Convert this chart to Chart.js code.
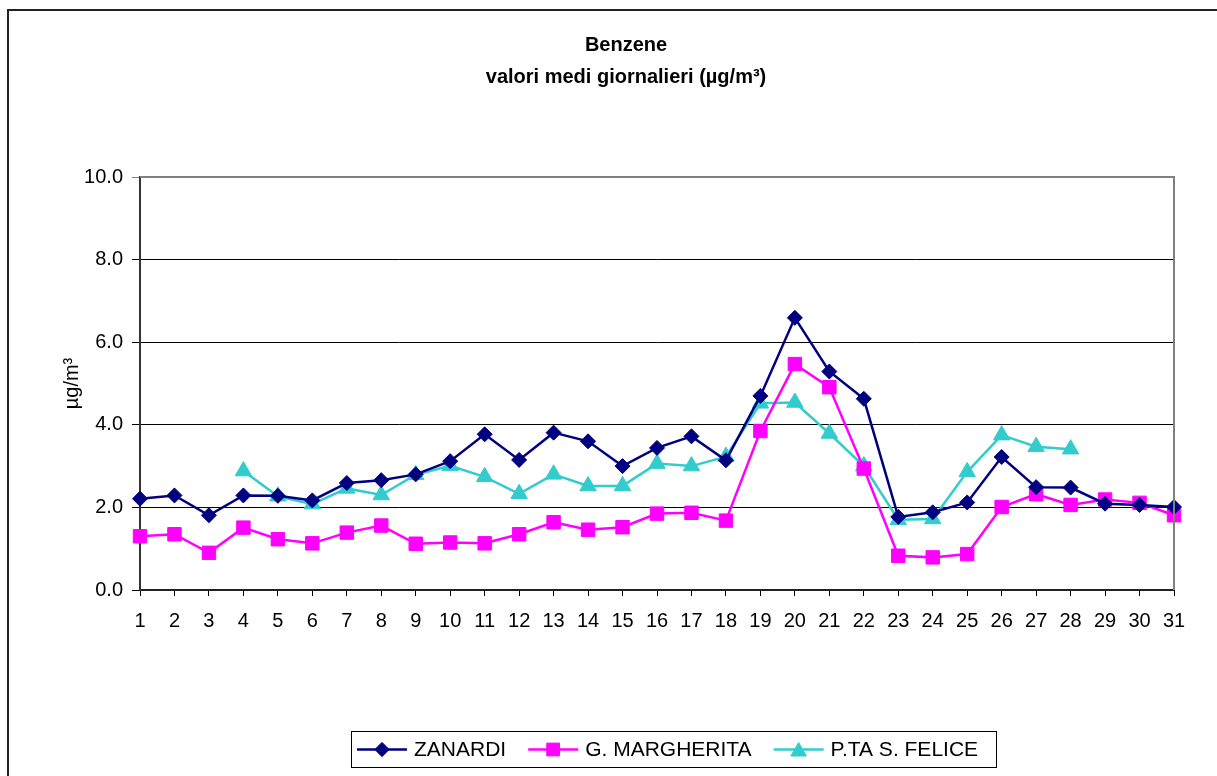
<!DOCTYPE html>
<html>
<head>
<meta charset="utf-8">
<script src="https://cdn.jsdelivr.net/npm/chart.js@4/dist/chart.umd.min.js"></script>
<style>
  html, body { margin: 0; padding: 0; background: #ffffff; }
  #wrap { width: 1217px; height: 776px; position: relative; }
  canvas { display: block; }
</style>
</head>
<body>
<div id="wrap"><canvas id="c" width="1217" height="776"></canvas></div>
<script>
const days = ['1','2','3','4','5','6','7','8','9','10','11','12','13','14','15','16','17','18','19','20','21','22','23','24','25','26','27','28','29','30','31'];
const zanardi = [2.21,2.29,1.81,2.29,2.28,2.17,2.59,2.66,2.80,3.12,3.77,3.15,3.81,3.60,3.00,3.44,3.72,3.14,4.70,6.59,5.29,4.63,1.77,1.88,2.12,3.22,2.49,2.48,2.09,2.06,2.01];
const margherita = [1.30,1.35,0.90,1.51,1.23,1.13,1.39,1.56,1.12,1.15,1.13,1.35,1.64,1.46,1.52,1.85,1.87,1.68,3.85,5.47,4.91,2.94,0.83,0.79,0.87,2.01,2.32,2.06,2.19,2.11,1.81];
const felice = [null,null,null,2.88,2.27,2.08,2.46,2.30,2.79,3.01,2.74,2.33,2.80,2.52,2.52,3.06,3.00,3.23,4.52,4.54,3.79,3.00,1.70,1.72,2.86,3.75,3.47,3.41,null,null,null];
const yTicks = [0,2,4,6,8,10];
const seriesNames = ['ZANARDI','G. MARGHERITA','P.TA S. FELICE'];
const titleLines = ['Benzene','valori medi giornalieri (\u00B5g/m\u00B3)'];
const yTitle = '\u00B5g/m\u00B3';

const FONT = "'Liberation Sans', Arial, Helvetica, sans-serif";
const colors = ['#000080','#FF00FF','#33CCCC'];
const styles = ['rectRot','rect','triangle'];
const radii = [7.5, 9.5, 9.5];

function ds(label, data, i) {
  return {
    label: label,
    data: data,
    borderColor: colors[i],
    backgroundColor: colors[i],
    borderWidth: 2.5,
    pointStyle: styles[i],
    pointRadius: radii[i],
    pointHoverRadius: radii[i],
    pointBackgroundColor: colors[i],
    pointBorderColor: colors[i],
    pointBorderWidth: 1,
    tension: 0,
    spanGaps: false,
    fill: false
  };
}

const framePlugin = {
  id: 'frame',
  beforeDraw(chart) {
    const ctx = chart.ctx;
    ctx.save();
    ctx.fillStyle = '#ffffff';
    ctx.fillRect(0, 0, chart.width, chart.height);
    ctx.restore();
  },
  afterDraw(chart) {
    const ctx = chart.ctx;
    const a = chart.chartArea;
    ctx.save();
    // plot border right / top (gray)
    ctx.strokeStyle = '#808080';
    ctx.lineWidth = 2;
    ctx.beginPath();
    ctx.moveTo(a.left, a.top);
    ctx.lineTo(a.right, a.top);
    ctx.lineTo(a.right, a.bottom);
    ctx.stroke();
    // outer chart frame (left & top visible)
    ctx.strokeStyle = '#222222';
    ctx.lineWidth = 2;
    ctx.beginPath();
    ctx.moveTo(8, chart.height);
    ctx.lineTo(8, 10);
    ctx.lineTo(chart.width, 10);
    ctx.stroke();

    // legend
    ctx.font = '21px ' + FONT;
    ctx.textBaseline = 'middle';
    const lineLen = 50, gapText = 7, gapItem = 22, padL = 6, padR = 18;
    const widths = chart.data.datasets.map(d => ctx.measureText(d.label).width);
    let total = padL + padR;
    widths.forEach((w, i) => { total += lineLen + gapText + w + (i < widths.length - 1 ? gapItem : 0); });
    const cx = 674, top = 731, h = 36;
    let x = Math.round(cx - total / 2);
    ctx.strokeStyle = '#000000';
    ctx.lineWidth = 1;
    ctx.strokeRect(x + 0.5, top + 0.5, Math.round(total), h);
    const cy = top + h / 2 + 0.5;
    x += padL;
    chart.data.datasets.forEach((d, i) => {
      ctx.strokeStyle = d.borderColor;
      ctx.lineWidth = 2.5;
      ctx.beginPath();
      ctx.moveTo(x, cy);
      ctx.lineTo(x + lineLen, cy);
      ctx.stroke();
      ctx.fillStyle = d.borderColor;
      ctx.lineWidth = 1;
      Chart.helpers.drawPoint(ctx, {pointStyle: d.pointStyle, radius: d.pointRadius * 0.95, borderWidth: 1, rotation: 0}, x + lineLen / 2, cy + (d.pointStyle === 'triangle' ? 2 : 0));
      ctx.fillStyle = '#000000';
      ctx.textAlign = 'left';
      ctx.fillText(d.label, x + lineLen + gapText, cy + 1);
      x += lineLen + gapText + widths[i] + gapItem;
    });
    ctx.restore();
  }
};

new Chart(document.getElementById('c'), {
  type: 'line',
  data: {
    labels: days,
    datasets: [ds(seriesNames[0], zanardi, 0), ds(seriesNames[1], margherita, 1), ds(seriesNames[2], felice, 2)]
  },
  options: {
    responsive: false,
    animation: false,
    devicePixelRatio: 1,
    layout: { padding: { left: 78, right: 43, top: 10, bottom: 136 } },
    plugins: {
      legend: { display: false },
      tooltip: { enabled: false },
      title: {
        display: true,
        text: titleLines,
        color: '#000000',
        font: { family: FONT, size: 20, weight: 'bold', lineHeight: '32px' },
        padding: { top: 19, bottom: 84 }
      }
    },
    scales: {
      x: {
        type: 'category',
        offset: false,
        afterFit(scale) { scale.height = 50; },
        grid: { display: true, drawOnChartArea: false, drawTicks: true, tickLength: 6, color: '#000000', lineWidth: 1 },
        border: { display: true, color: '#222222', width: 2 },
        ticks: { color: '#000000', font: { family: FONT, size: 20 }, padding: 13, maxRotation: 0, autoSkip: false }
      },
      y: {
        min: 0, max: 10,
        afterFit(scale) { scale.width = 62; },
        afterBuildTicks(scale) { scale.ticks = yTicks.map(v => ({ value: v })); },
        grid: {
          display: true, drawOnChartArea: true, drawTicks: true, tickLength: 8,
          color: (c) => (c.tick && c.tick.value === 10) ? '#808080' : '#000000',
          lineWidth: 1
        },
        border: { display: true, color: '#333333', width: 2 },
        title: { display: true, text: yTitle, color: '#000000', font: { family: FONT, size: 20 }, padding: { top: -18, bottom: 0 } },
        ticks: { color: '#000000', font: { family: FONT, size: 20 }, padding: 9, callback: (v) => Number(v).toFixed(1) }
      }
    }
  },
  plugins: [framePlugin]
});
</script>
</body>
</html>
